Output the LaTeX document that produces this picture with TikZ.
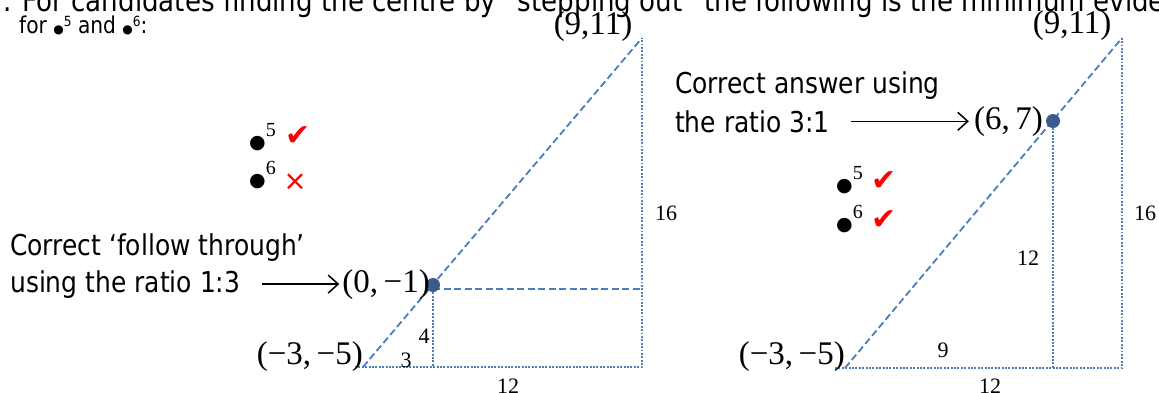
\documentclass[tikz,border=0pt]{standalone}
\usepackage{fontspec}
\usepackage{tikz}
\usetikzlibrary{arrows.meta,positioning}
\newfontfamily\notefont[FakeStretch=0.87]{DejaVu Sans}
\newfontfamily\crdfont{Liberation Serif}
\newfontfamily\markfont{DejaVu Sans}
\definecolor{lineblue}{RGB}{74,126,187}
\definecolor{dotblue}{RGB}{56,93,138}
\newcommand{\hdbul}[1]{{\markfont\fontsize{12}{12}\selectfont ●}\raisebox{7pt}{\fontsize{14}{14}\selectfont #1}}
\newcommand{\bigbul}[1]{{\markfont\fontsize{19}{19}\selectfont ●}\raisebox{12pt}{\fontsize{20}{20}\selectfont #1}}

\begin{document}
\begin{tikzpicture}[x=1pt,y=-1pt]%
    \tikzstyle{note}=[inner sep=0pt,anchor=base west,font=\notefont\fontsize{28.7}{34}\selectfont]%%
    \tikzstyle{head}=[inner sep=0pt,anchor=base west,font=\notefont\fontsize{23.2}{28}\selectfont]%%
    \tikzstyle{crd}=[inner sep=0pt,font=\crdfont\fontsize{33}{36}\selectfont]%%
    \tikzstyle{len}=[inner sep=0pt,font=\crdfont\fontsize{22}{24}\selectfont]%%
    \tikzstyle{bul}=[inner sep=0pt,anchor=base west,font=\crdfont\fontsize{20}{22}\selectfont]%%
    \tikzstyle{okmark}=[inner sep=0pt,red,font=\markfont\fontsize{30}{30}\selectfont]%%
    \tikzstyle{dsh}=[lineblue,line width=1.8pt,dash pattern=on 7pt off 3.5pt]%%
    \tikzstyle{dtd}=[lineblue,line width=2.1pt,dash pattern=on 1.9pt off 1.5pt]%%
    \tikzstyle{arr}=[black,line width=1.5pt,-{Straight Barb[length=10pt,width=18pt]}]%%
    \useasboundingbox (0,0) rectangle (1159,392);%%
    \clip (0,0) rectangle (1159,392);%%
    %% heading
    \node[head,font=\notefont\fontsize{30}{30}\selectfont] (hd1) at (3,11) {. For candidates finding the centre by “stepping out” the following is the minimum evidence};%%
    \node[head] (hd2) at (19,33) {for \hdbul{5} and \hdbul{6}:};%%
    %% left: ratio 1:3
    \coordinate (a1) at (363,367);%%
    \coordinate (b1) at (355,367);%%
    \coordinate (t1) at (642,38);%%
    \coordinate (r1) at (642,367);%%
    \coordinate (p1) at (433,285);%%
    \coordinate (q1) at (433,367);%%
    \coordinate (g1) at (433,289);%%
    \coordinate (h1) at (642,289);%%
    \draw[dtd] (b1) -- (r1) -- (t1);%%
    \draw[dtd] (g1) -- (q1);%%
    \draw[dsh] (a1) -- (t1);%%
    \draw[dsh] (g1) -- (h1);%%
    \fill[dotblue] (p1) circle (7pt);%%
    \node[crd] (topL) at (593,27) {(9,11)};%%
    \node[crd,anchor=east] (ptL) at (430,285) {(0,\,−1)};%%
    \node[crd,anchor=east] (baseL) at (363,357) {(−3,\,−5)};%%
    \node[len] (sixteenL) at (666,213) {16};%%
    \node[len] (twelveL) at (508,386) {12};%%
    \node[len] (fourL) at (424,336) {4};%%
    \node[len] (threeL) at (406,360) {3};%%
    \node[note] (followL) at (10,255) {Correct ‘follow through’};%%
    \node[note] (ratioL) at (10,292) {using the ratio 1:3};%%
    \draw[arr,shorten <=22pt,shorten >=3pt] (ratioL.east) -- (ratioL.east -| ptL.west);%%
    \node[bul] (b5L) at (249,148) {\bigbul{5}};%%
    \node[bul] (b6L) at (249,186) {\bigbul{6}};%%
    \node[okmark] (ok5L) at (298,136) {✔};%%
    \node[okmark,font=\markfont\fontsize{28}{28}\selectfont] (no6L) at (295,182) {×};%%
    %% right: ratio 3:1
    \coordinate (a2) at (845,368);%%
    \coordinate (b2) at (835,368);%%
    \coordinate (t2) at (1122,38);%%
    \coordinate (r2) at (1122,368);%%
    \coordinate (p2) at (1053,121);%%
    \coordinate (q2) at (1053,368);%%
    \draw[dtd] (b2) -- (r2) -- (t2);%%
    \draw[dtd] (p2) -- (q2);%%
    \draw[dsh] (a2) -- (t2);%%
    \fill[dotblue] (p2) circle (7pt);%%
    \node[crd] (topR) at (1072,26) {(9,11)};%%
    \node[crd,anchor=east] (ptR) at (1043,122) {(6,\,7)};%%
    \node[crd,anchor=east] (baseR) at (845,357) {(−3,\,−5)};%%
    \node[len] (sixteenR) at (1145,213) {16};%%
    \node[len] (twelveR) at (1028,258) {12};%%
    \node[len] (nineR) at (943,350) {9};%%
    \node[len] (twelveB) at (990,386) {12};%%
    \node[note] (answerR) at (675,93) {Correct answer using};%%
    \node[note] (ratioR) at (675,132) {the ratio 3:1};%%
    \draw[arr,shorten <=21pt,shorten >=5pt] (ratioR.east) -- (ratioR.east -| ptR.west);%%
    \node[bul] (b5R) at (836,191) {\bigbul{5}};%%
    \node[bul] (b6R) at (836,230) {\bigbul{6}};%%
    \node[okmark] (ok5R) at (884,181) {✔};%%
    \node[okmark] (ok6R) at (884,220) {✔};%%
\end{tikzpicture}
\end{document}
